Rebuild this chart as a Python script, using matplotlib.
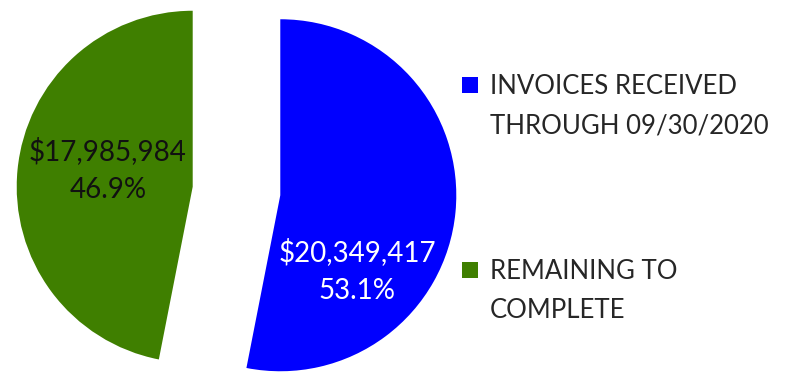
import matplotlib.pyplot as plt
from matplotlib.patches import Rectangle

# data
labels = ["INVOICES RECEIVED\nTHROUGH 09/30/2020", "REMAINING TO\nCOMPLETE"]
amounts = [20349417, 17985984]
pcts = ["53.1%", "46.9%"]
colors = ["#0000FF", "#3F7F00"]
text_colors = ["white", "#111111"]

plt.rcParams['font.family'] = ['Lato', 'DejaVu Sans']

W, H = 788, 377
fig = plt.figure(figsize=(W / 100, H / 100), dpi=100)

# pie area: radius = 176 px, centre at (236.5, 186) px from lower left
r_px = 176.0
ax = fig.add_axes([0, 0, 473 / W, 1])
wedges, _ = ax.pie(amounts, colors=colors, startangle=90, counterclock=False,
                   explode=[0.25, 0.25], radius=1.0, frame=True)
ax.axis('off')
ax.set_xlim(-236.5 / r_px, 236.5 / r_px)
ax.set_ylim(-186 / r_px, (H - 186) / r_px)

# data labels (Excel-like placement inside each slice)
label_pos = [(0.685, -0.455), (-0.73, 0.119)]
for a, p, c, pos in zip(amounts, pcts, text_colors, label_pos):
    ax.text(pos[0], pos[1], f"${a:,.0f}\n{p}", color=c, fontsize=20,
            ha='center', va='center', linespacing=1.55, multialignment='center')

# legend on the right, square marker aligned with first text line
leg_y = [93, 278]  # baseline of first line, px from top
line_px = 40
for w, lab, yb in zip(wedges, labels, leg_y):
    fig.patches.append(Rectangle((462 / W, 1 - yb / H), 16 / W, 16 / H,
                                 transform=fig.transFigure, color=w.get_facecolor(),
                                 lw=0))
    # va='baseline' anchors the last line, so shift down by the extra lines
    n_extra = lab.count("\n")
    fig.text(490 / W, 1 - (yb + n_extra * line_px) / H, lab, fontsize=18.5,
             color='#262626', va='baseline', ha='left', linespacing=1.72)

fig.savefig("out.png", dpi=100)
